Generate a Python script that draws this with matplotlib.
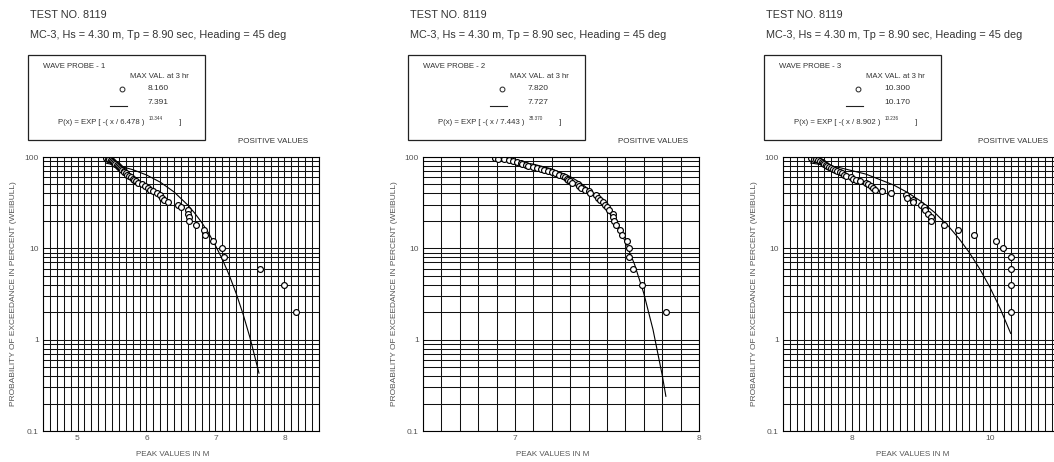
import matplotlib
matplotlib.use("Agg")
import matplotlib.pyplot as plt
from matplotlib.lines import Line2D
from matplotlib.patches import Rectangle
from matplotlib.ticker import MultipleLocator, FixedLocator, NullFormatter

plt.rcParams["font.family"] = "Liberation Sans"

# -----------------------------
# Data
# -----------------------------
test_title = "TEST NO. 8119"
run_title = "MC-3, Hs = 4.30 m, Tp = 8.90 sec, Heading = 45 deg"
probe_names = ["WAVE PROBE - 1", "WAVE PROBE - 2", "WAVE PROBE - 3"]
max_measured = ["8.160", "7.820", "10.300"]
max_fitted = ["7.391", "7.727", "10.170"]
fit_scale = ["6.478", "7.443", "8.902"]
fit_shape = ["10.344", "38.370", "10.236"]

# exceedance probability of each ranked peak (%)
exceed_pct = [98, 96, 94, 92, 90, 88, 86, 84, 82, 80,
              78, 76, 74, 72, 70, 68, 66, 64, 62, 60,
              58, 56, 54, 52, 50, 48, 46, 44, 42, 40,
              38, 36, 34, 32, 30, 28, 26, 24, 22, 20,
              18, 16, 14, 12, 10, 8, 6, 4, 2]

probe1_peaks = [5.42, 5.44, 5.46, 5.48, 5.50, 5.52, 5.53, 5.55, 5.57, 5.58,
                5.60, 5.62, 5.63, 5.65, 5.67, 5.68, 5.70, 5.72, 5.74, 5.77,
                5.80, 5.82, 5.85, 5.88, 5.93, 5.98, 6.02, 6.05, 6.10, 6.15,
                6.20, 6.23, 6.26, 6.31, 6.45, 6.50, 6.60, 6.60, 6.61, 6.62,
                6.72, 6.84, 6.85, 6.97, 7.10, 7.12, 7.64, 8.00, 8.16]
probe2_peaks = [6.89, 6.91, 6.94, 6.97, 6.99, 7.01, 7.03, 7.04, 7.06, 7.07,
                7.10, 7.12, 7.14, 7.16, 7.18, 7.20, 7.22, 7.24, 7.26, 7.27,
                7.28, 7.29, 7.30, 7.31, 7.34, 7.35, 7.36, 7.38, 7.40, 7.41,
                7.44, 7.45, 7.46, 7.48, 7.49, 7.50, 7.51, 7.53, 7.53, 7.54,
                7.55, 7.57, 7.58, 7.61, 7.62, 7.62, 7.64, 7.69, 7.82]
probe3_peaks = [7.40, 7.45, 7.48, 7.51, 7.54, 7.56, 7.58, 7.60, 7.62, 7.64,
                7.67, 7.70, 7.72, 7.75, 7.78, 7.82, 7.85, 7.88, 7.92, 7.98,
                8.02, 8.06, 8.12, 8.20, 8.23, 8.27, 8.30, 8.33, 8.43, 8.56,
                8.78, 8.80, 8.89, 8.89, 9.00, 9.05, 9.06, 9.10, 9.14, 9.14,
                9.34, 9.54, 9.77, 10.09, 10.19, 10.30, 10.30, 10.30, 10.30]

# fitted Weibull curves
fit1_x = [5.42, 5.6, 5.8, 6.0, 6.2, 6.4, 6.6, 6.7, 6.8, 6.9, 7.0, 7.1, 7.2, 7.3, 7.4, 7.5, 7.63]
fit1_p = [85.4, 80.1, 72.7, 63.6, 53.0, 41.4, 29.7, 24.2, 19.2, 14.7, 10.7, 7.57, 5.06, 3.20, 1.90, 1.05, 0.43]
fit2_x = [6.88, 7.0, 7.1, 7.2, 7.3, 7.35, 7.4, 7.45, 7.5, 7.55, 7.6, 7.65, 7.7, 7.75, 7.8, 7.82]
fit2_p = [94.4, 89.8, 83.5, 74.1, 61.0, 53.1, 44.5, 35.5, 26.7, 18.6, 11.8, 6.65, 3.21, 1.29, 0.41, 0.24]
fit3_x = [7.4, 7.8, 8.2, 8.6, 8.8, 9.0, 9.2, 9.4, 9.55, 9.7, 9.85, 10.0, 10.15, 10.3]
fit3_p = [86.0, 77.2, 65.0, 49.5, 41.1, 32.7, 24.6, 17.4, 12.8, 9.0, 5.98, 3.73, 2.17, 1.17]

peaks = [probe1_peaks, probe2_peaks, probe3_peaks]
fits = [(fit1_x, fit1_p), (fit2_x, fit2_p), (fit3_x, fit3_p)]
x_ranges = [(4.5, 8.5), (6.5, 8.0), (7.0, 11.0)]
x_ticks = [[5, 6, 7, 8], [7, 8], [8, 10]]

# -----------------------------
# Layout (pixels, y from top)
# -----------------------------
W, H = 1054, 462
fig = plt.figure(figsize=(W / 100, H / 100), dpi=100)


def fx(px):
    return px / W


def fy(py):
    return 1 - py / H


axes_left = [43, 423, 783]
axes_w = 276
axes_top, axes_bot = 157, 431
title_left = [30, 410, 766]

dark = "#333333"
grey = "#555555"

for i in range(3):
    ax = fig.add_axes([fx(axes_left[i]), fy(axes_bot), axes_w / W, (axes_bot - axes_top) / H])
    ax.set_yscale("log")
    ax.set_xlim(*x_ranges[i])
    ax.set_ylim(0.1, 100)
    ax.xaxis.set_major_locator(FixedLocator(x_ticks[i]))
    ax.xaxis.set_minor_locator(MultipleLocator(0.1))
    ax.set_yticks([0.1, 1, 10, 100])
    ax.set_yticklabels(["0.1", "1", "10", "100"])
    ax.yaxis.set_minor_formatter(NullFormatter())
    ax.grid(True, which="both", color="#111111", lw=0.75)
    ax.set_axisbelow(True)
    ax.tick_params(which="both", length=0, pad=3, labelsize=6, labelcolor=grey)
    for s in ax.spines.values():
        s.set_linewidth(0.8)

    ax.plot(fits[i][0], fits[i][1], color="black", lw=0.8)
    ax.plot(peaks[i], exceed_pct, "o", ms=4.2, mfc="white", mec="black", mew=0.85)

    cx = axes_left[i] + axes_w / 2
    fig.text(fx(cx - 8), fy(455), "PEAK VALUES IN M", fontsize=5.8, color=grey,
             ha="center", va="center")
    fig.text(fx(axes_left[i] - 29), fy(294), "PROBABILITY OF EXCEEDANCE IN PERCENT (WEIBULL)",
             fontsize=6, color=grey, rotation=90, ha="center", va="center")
    fig.text(fx(axes_left[i] + axes_w - 11), fy(142), "POSITIVE VALUES", fontsize=5.8,
             color=dark, ha="right", va="center")

    # header
    tx = title_left[i]
    fig.text(fx(tx), fy(15), test_title, fontsize=7.8, color=dark, va="center")
    fig.text(fx(tx), fy(35), run_title, fontsize=7.8, color=dark, va="center")

    # legend box
    bx = tx - 2
    fig.add_artist(Rectangle((fx(bx), fy(140)), 177 / W, 85 / H, transform=fig.transFigure,
                             fill=False, ec="#222222", lw=0.9))
    fig.text(fx(bx + 15), fy(67), probe_names[i], fontsize=5.6, color=dark, va="center")
    fig.text(fx(bx + 102), fy(76), "MAX VAL. at 3 hr", fontsize=5.6, color=dark, va="center")
    fig.add_artist(Line2D([fx(bx + 94)], [fy(89)], marker="o", ms=3.5, mfc="white",
                          mec="#222222", mew=0.7, transform=fig.transFigure))
    fig.text(fx(bx + 120), fy(89), max_measured[i], fontsize=6, color=dark, va="center")
    fig.add_artist(Line2D([fx(bx + 82), fx(bx + 99)], [fy(106), fy(106)], color="#222222",
                          lw=0.8, transform=fig.transFigure))
    fig.text(fx(bx + 120), fy(102), max_fitted[i], fontsize=6, color=dark, va="center")
    ft = fig.text(fx(bx + 30), fy(123), "P(x) = EXP [ -( x / " + fit_scale[i] + " )",
                  fontsize=5.6, color=dark, va="center")
    fig.canvas.draw()
    bb = ft.get_window_extent()
    fig.text(fx(bb.x1 + 4), fy(118), fit_shape[i], fontsize=3.3, color=dark, va="center")
    fig.text(fx(bx + 151), fy(123), "]", fontsize=5.6, color=dark, va="center")

fig.savefig("out.png", dpi=100)
